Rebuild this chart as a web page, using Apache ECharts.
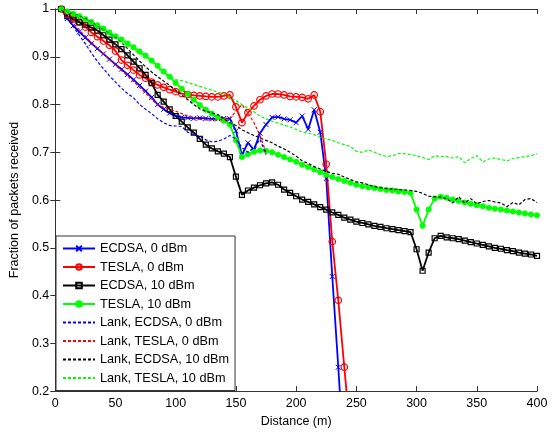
<!DOCTYPE html>
<html>
<head>
<meta charset="utf-8">
<script src="https://cdn.jsdelivr.net/npm/echarts@6/dist/echarts.min.js"></script>
<style>
html,body{margin:0;padding:0;background:#fff;}
#c{width:552px;height:433px;}
</style>
</head>
<body>
<div id="c"></div>
<script>
// Distance (m) sample points
var distance = [5,10,15,20,25,30,35,40,45,50,55,60,65,70,75,80,85,90,95,100,
  105,110,115,120,125,130,135,140,145,150,155,160,165,170,175,180,185,190,195,200,
  205,210,215,220,225,230,235,240,245,250,255,260,265,270,275,280,285,290,295,300,
  305,310,315,320,325,330,335,340,345,350,355,360,365,370,375,380,385,390,395,400];

var xTicks = [0,50,100,150,200,250,300,350,400];
var yTicks = [0.2,0.3,0.4,0.5,0.6,0.7,0.8,0.9,1];

var seriesNames = ['ECDSA, 0 dBm','TESLA, 0 dBm','ECDSA, 10 dBm','TESLA, 10 dBm',
  'Lank, ECDSA, 0 dBm','Lank, TESLA, 0 dBm','Lank, ECDSA, 10 dBm','Lank, TESLA, 10 dBm'];

var ecdsa0 = [1.0,0.98,0.965,0.952,0.94,0.928,0.917,0.906,0.895,0.884,0.874,0.863,0.852,0.84,0.828,0.815,0.8,0.79,0.782,0.776,
  0.773,0.772,0.771,0.772,0.771,0.77,0.77,0.771,0.77,0.745,0.694,0.72,0.705,0.74,0.758,0.773,0.774,0.77,0.768,0.762,
  0.776,0.748,0.789,0.742,0.645,0.44,0.25,0.05];

var tesla0 = [1.0,0.99,0.982,0.973,0.962,0.951,0.942,0.933,0.924,0.912,0.893,0.882,0.872,0.862,0.855,0.847,0.841,0.836,0.831,0.827,
  0.823,0.821,0.819,0.818,0.817,0.816,0.816,0.818,0.82,0.795,0.762,0.783,0.797,0.81,0.818,0.822,0.822,0.82,0.817,0.816,
  0.815,0.812,0.82,0.785,0.675,0.513,0.39,0.25,0.11];

var ecdsa10 = [1.0,0.985,0.978,0.972,0.967,0.961,0.955,0.945,0.936,0.926,0.916,0.903,0.89,0.876,0.862,0.845,0.82,0.806,0.79,0.776,
  0.764,0.752,0.741,0.728,0.716,0.708,0.702,0.697,0.69,0.649,0.611,0.62,0.626,0.631,0.635,0.637,0.632,0.622,0.615,0.608,
  0.601,0.596,0.591,0.585,0.58,0.574,0.569,0.563,0.559,0.555,0.552,0.549,0.546,0.544,0.541,0.539,0.537,0.535,0.533,0.497,
  0.452,0.49,0.52,0.525,0.522,0.52,0.518,0.515,0.512,0.509,0.506,0.503,0.5,0.498,0.495,0.493,0.49,0.488,0.486,0.483];

var tesla10 = [1.0,0.995,0.99,0.985,0.979,0.973,0.966,0.959,0.951,0.943,0.936,0.928,0.92,0.911,0.902,0.892,0.881,0.869,0.858,0.845,
  0.833,0.822,0.81,0.799,0.789,0.781,0.773,0.766,0.758,0.725,0.69,0.696,0.701,0.704,0.703,0.7,0.695,0.69,0.685,0.68,
  0.674,0.669,0.664,0.658,0.653,0.648,0.644,0.64,0.636,0.632,0.629,0.627,0.625,0.623,0.621,0.62,0.618,0.617,0.615,0.58,
  0.546,0.58,0.603,0.607,0.605,0.601,0.598,0.595,0.592,0.589,0.587,0.584,0.582,0.58,0.578,0.576,0.574,0.572,0.57,0.568];

var lankEcdsa0 = [1.0,0.98,0.963,0.945,0.927,0.908,0.89,0.875,0.86,0.847,0.834,0.823,0.814,0.8,0.79,0.781,0.77,0.762,0.756,0.755,
  0.754,0.742,0.737,0.734,0.726,0.722,0.723,0.728,0.735,0.728,0.71,0.7,0.71,0.727,0.695];

var lankTesla0 = [1.0,0.985,0.97,0.956,0.943,0.93,0.918,0.906,0.894,0.882,0.871,0.86,0.848,0.836,0.824,0.81,0.8,0.794,0.79,0.786,
  0.781,0.776,0.772,0.769,0.768,0.768,0.767,0.769,0.772,0.785,0.8,0.782,0.762,0.735,0.7];

var lankEcdsa10 = [1.0,0.995,0.99,0.985,0.98,0.972,0.964,0.956,0.948,0.94,0.93,0.917,0.904,0.891,0.879,0.868,0.858,0.849,0.84,0.83,
  0.82,0.81,0.8,0.791,0.786,0.782,0.779,0.77,0.762,0.756,0.747,0.741,0.735,0.73,0.725,0.72,0.713,0.707,0.7,0.692,
  0.682,0.677,0.67,0.665,0.66,0.656,0.654,0.648,0.643,0.638,0.636,0.632,0.628,0.626,0.624,0.623,0.622,0.621,0.62,0.618,
  0.614,0.608,0.607,0.606,0.603,0.594,0.607,0.594,0.603,0.592,0.597,0.599,0.596,0.594,0.586,0.595,0.59,0.601,0.603,0.595];

var lankTesla10 = [1.0,0.995,0.99,0.984,0.978,0.971,0.963,0.955,0.947,0.938,0.93,0.922,0.915,0.907,0.9,0.892,0.876,0.865,0.858,0.852,
  0.85,0.846,0.842,0.838,0.834,0.83,0.826,0.822,0.816,0.808,0.8,0.792,0.785,0.776,0.77,0.765,0.761,0.757,0.753,0.748,
  0.742,0.74,0.737,0.731,0.728,0.725,0.72,0.716,0.712,0.702,0.7,0.705,0.7,0.695,0.691,0.693,0.697,0.697,0.695,0.693,
  0.689,0.685,0.693,0.691,0.691,0.688,0.691,0.678,0.687,0.693,0.68,0.686,0.688,0.685,0.682,0.687,0.689,0.691,0.693,0.697];

function pairs(vals){
  var out = [];
  for (var i = 0; i < vals.length; i++) out.push([distance[i], vals[i]]);
  return out;
}

var BLUE = '#0000ff', RED = '#ff0000', BLACK = '#000000', GREEN = '#00ff00';
var FONT = 'Liberation Sans, Arial, Helvetica, sans-serif';

function solid(name, vals, color, symbol, size, itemStyle){
  return {
    name: name, type: 'line', data: pairs(vals),
    symbol: symbol, symbolSize: size, showSymbol: true,
    lineStyle: {color: color, width: 1.8, type: 'solid'},
    itemStyle: itemStyle,
    emphasis: {disabled: true}, z: 3
  };
}
function dashed(name, vals, color){
  return {
    name: name, type: 'line', data: pairs(vals),
    symbol: 'circle', symbolSize: 0, showSymbol: false,
    lineStyle: {color: color, width: 1.2, type: [3, 2]},
    itemStyle: {color: 'rgba(0,0,0,0)', borderWidth: 0},
    emphasis: {disabled: true}, z: 4
  };
}

var chart = echarts.init(document.getElementById('c'), null, {renderer: 'canvas'});
var axisLine = {show: true, lineStyle: {color: '#333', width: 1}};
var tick = {show: true, inside: true, length: 5, lineStyle: {color: '#333'}};
var lbl = {color: '#000', fontSize: 12.5, fontFamily: FONT};

chart.setOption({
  animation: false,
  backgroundColor: '#fff',
  grid: {left: 52, right: 15, top: 9, bottom: 41, containLabel: false},
  xAxis: [
    {type: 'value', min: xTicks[0], max: xTicks[xTicks.length-1], interval: 50, position: 'bottom',
     axisLine: axisLine, axisTick: tick, splitLine: {show: false},
     axisLabel: Object.assign({margin: 6}, lbl),
     name: 'Distance (m)', nameLocation: 'middle', nameGap: 22,
     nameTextStyle: {color: '#000', fontSize: 12.5, fontFamily: FONT}},
    {type: 'value', min: xTicks[0], max: xTicks[xTicks.length-1], interval: 50, position: 'top',
     axisLine: axisLine, axisTick: tick, splitLine: {show: false}, axisLabel: {show: false}}
  ],
  yAxis: [
    {type: 'value', min: yTicks[0], max: yTicks[yTicks.length-1], interval: 0.1, position: 'left',
     axisLine: axisLine, axisTick: tick, splitLine: {show: false},
     axisLabel: Object.assign({margin: 6, formatter: function(v){ return String(Math.round(v*10)/10); }}, lbl),
     name: 'Fraction of packets received', nameLocation: 'middle', nameGap: 25,
     nameTextStyle: {color: '#000', fontSize: 12.5, fontFamily: FONT}},
    {type: 'value', min: yTicks[0], max: yTicks[yTicks.length-1], interval: 0.1, position: 'right',
     axisLine: axisLine, axisTick: tick, splitLine: {show: false}, axisLabel: {show: false}}
  ],
  legend: {
    orient: 'vertical', left: 56, top: 236,
    data: seriesNames,
    itemWidth: 32, itemHeight: 7, itemGap: 4.5,
    padding: [5.5, 6, 5.5, 6],
    backgroundColor: '#fff', borderColor: '#333', borderWidth: 1, borderRadius: 0,
    textStyle: {color: '#000', fontSize: 12.7, fontFamily: FONT, lineHeight: 14},
    selectedMode: false
  },
  series: [
    solid(seriesNames[0], ecdsa0, BLUE, 'path://M0,0L10,10M10,0L0,10', 5,
      {color: 'none', borderColor: BLUE, borderWidth: 1}),
    solid(seriesNames[1], tesla0, RED, 'circle', 6.5,
      {color: 'rgba(0,0,0,0)', borderColor: RED, borderWidth: 1.2}),
    solid(seriesNames[2], ecdsa10, BLACK, 'rect', 5,
      {color: 'rgba(0,0,0,0)', borderColor: BLACK, borderWidth: 1.2}),
    solid(seriesNames[3], tesla10, GREEN, 'circle', 5.5,
      {color: GREEN, borderColor: GREEN, borderWidth: 0.5}),
    dashed(seriesNames[4], lankEcdsa0, BLUE),
    dashed(seriesNames[5], lankTesla0, RED),
    dashed(seriesNames[6], lankEcdsa10, BLACK),
    dashed(seriesNames[7], lankTesla10, GREEN)
  ]
});
</script>
</body>
</html>
